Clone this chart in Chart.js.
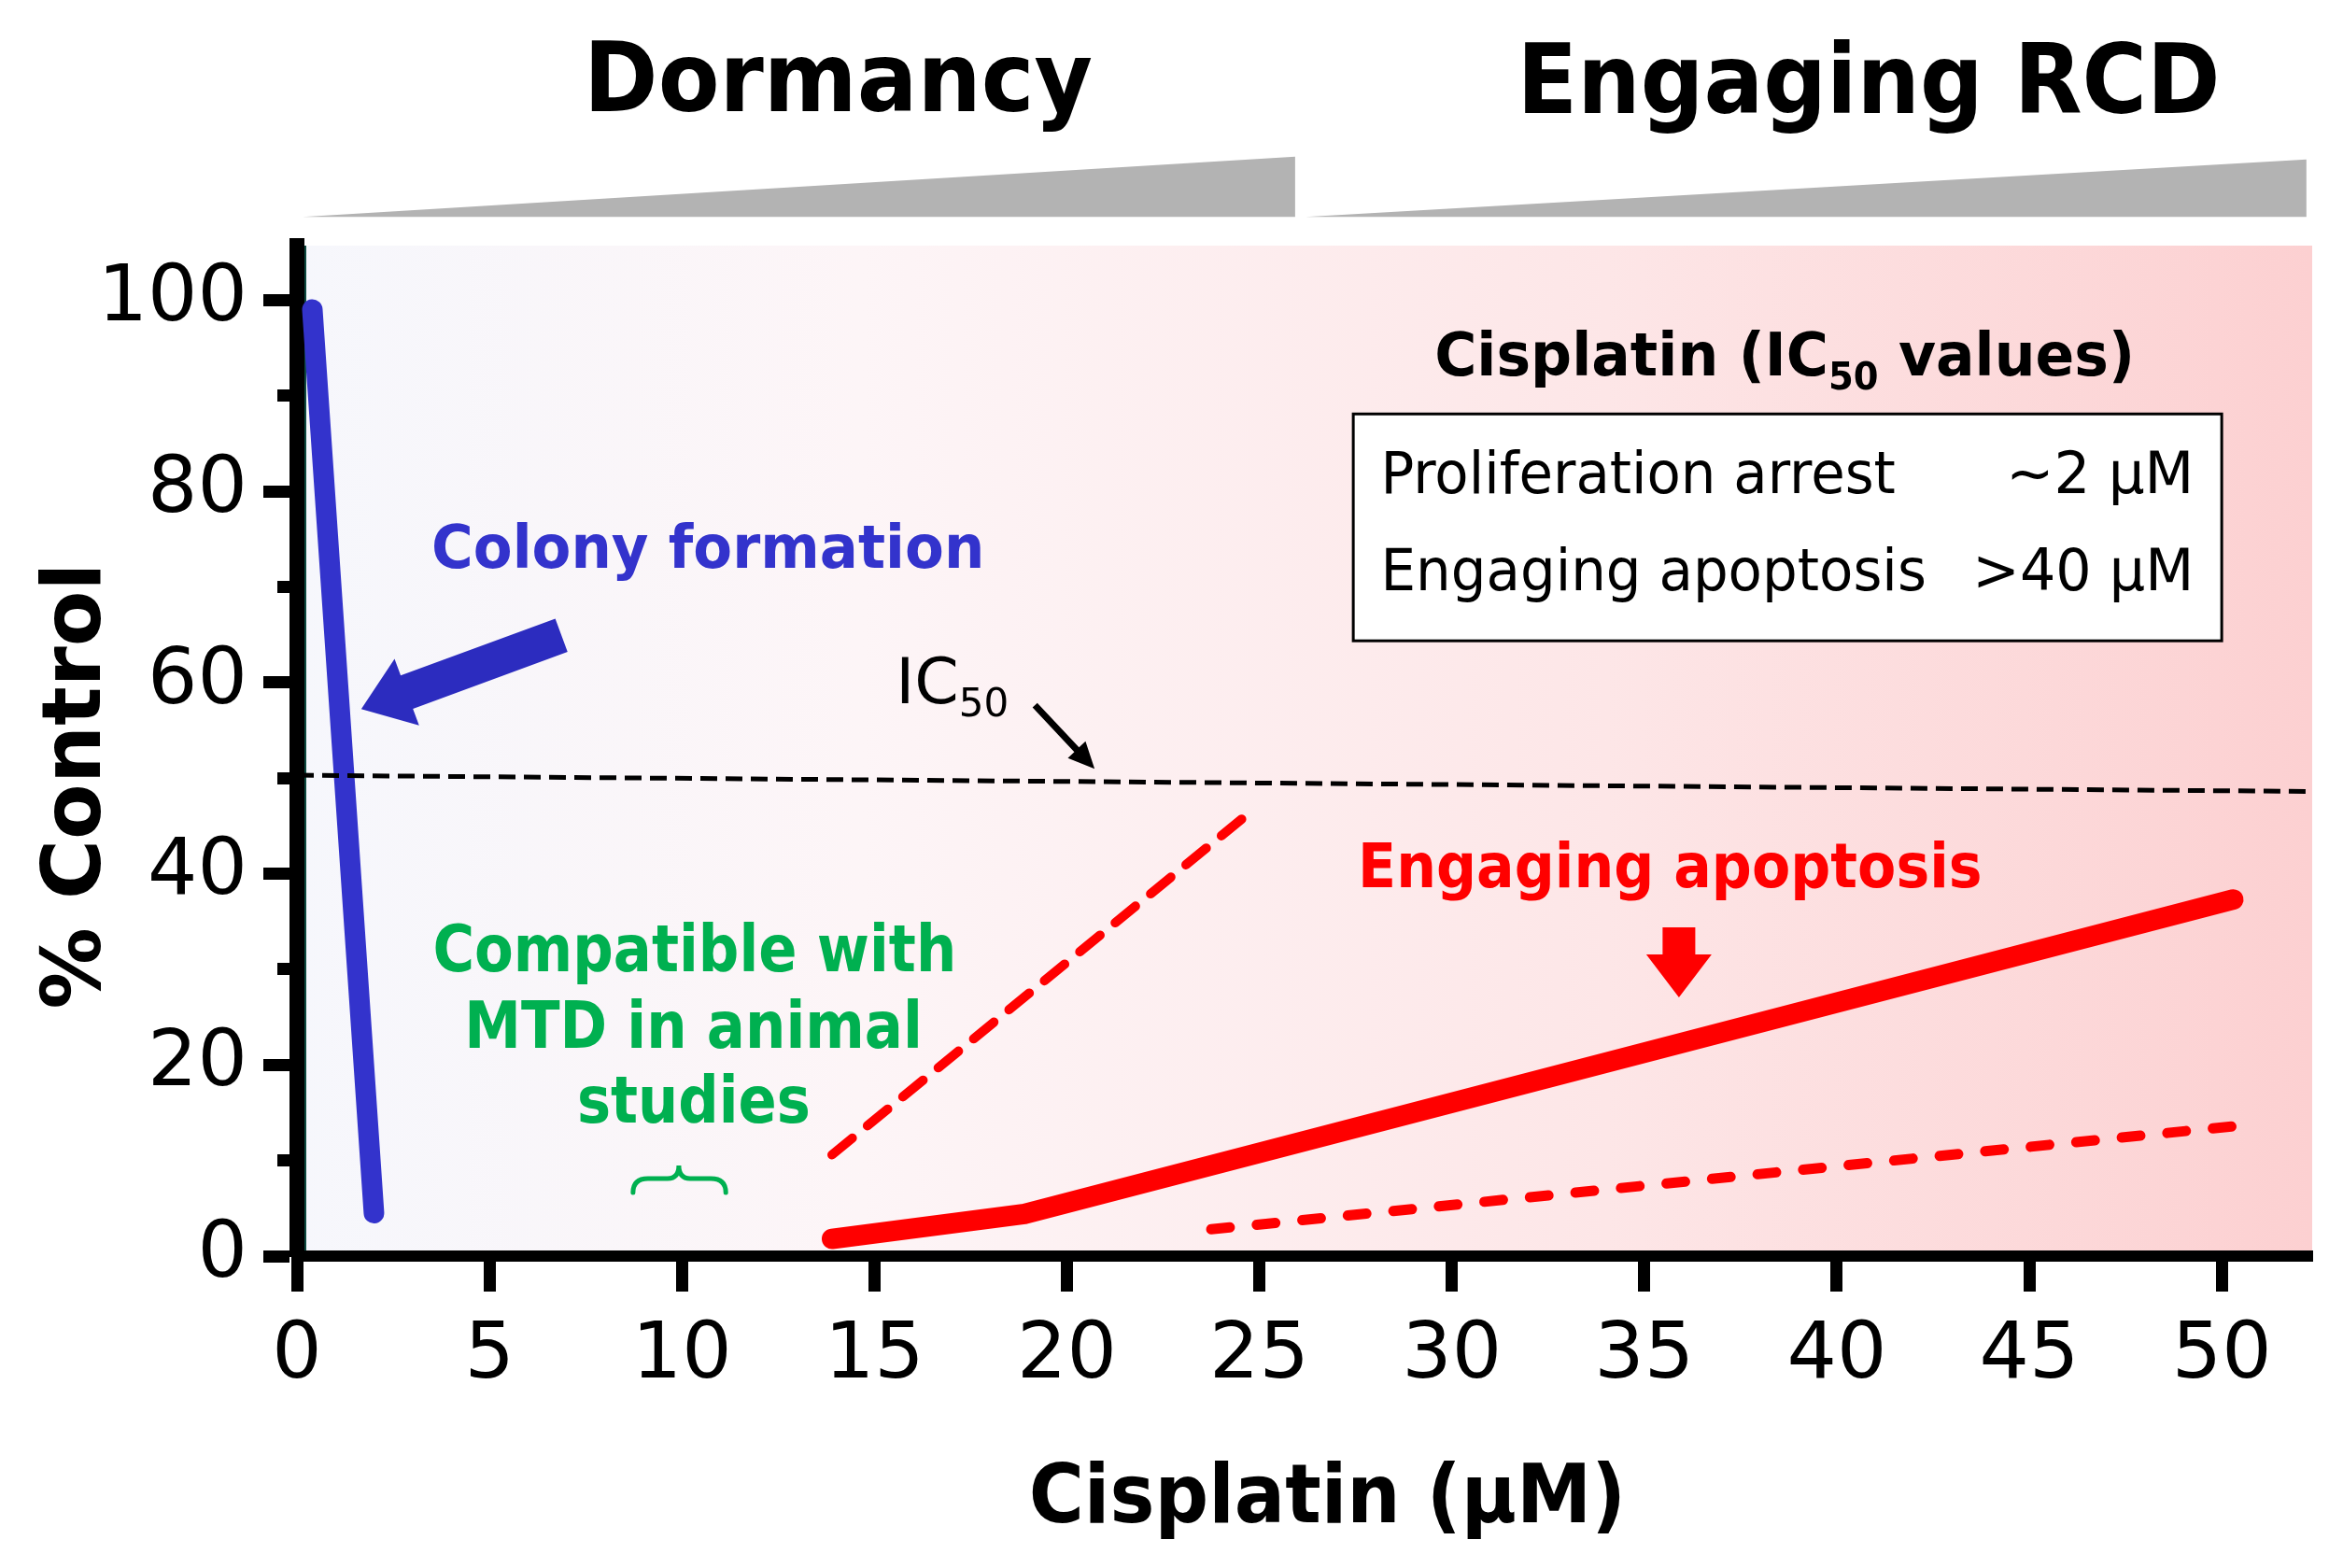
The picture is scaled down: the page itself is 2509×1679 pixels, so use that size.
<!DOCTYPE html>
<html><head><meta charset="utf-8">
<script src="https://cdn.jsdelivr.net/npm/chart.js@4.4.1/dist/chart.umd.min.js"></script>
<style>html,body{margin:0;padding:0;background:#fff}canvas{display:block}</style>
</head><body>
<canvas id="c" width="2509" height="1679" style="width:2509px;height:1679px"></canvas>
<script>
// ---------------- data ----------------
const xTickValues = [0, 5, 10, 15, 20, 25, 30, 35, 40, 45, 50];
const yTickLabels = [0, 20, 40, 60, 80, 100];
const colonyX = [0.4, 2.0];
const colonyY = [99.0, 4.5];
const apoptosisX = [13.9, 18.9, 50.3];
const apoptosisY = [1.8, 4.4, 37.3];
const upperBoundX = [13.9, 24.6];
const upperBoundY = [10.6, 45.9];
const lowerBoundX = [23.75, 50.6];
const lowerBoundY = [2.8, 13.7];
const ic50X = [0, 52.35];
const ic50Y = [50.3, 48.6];
const phaseLabels = ['Dormancy', 'Engaging RCD'];
const tableRows = ['Proliferation arrest', 'Engaging apoptosis'];
const tableValues = ['~2 μM', '>40 μM'];
const mtdLines = ['Compatible with', 'MTD in animal', 'studies'];

// ---------------- helpers ----------------
const FONT = 'DejaVu Sans';
const pts = (xs, ys) => xs.map((x, i) => ({x: x, y: ys[i]}));

function inkText(ctx, s, px, py, o) {
  ctx.save();
  ctx.font = (o.weight || 'normal') + ' ' + o.size + 'px "' + FONT + '"';
  ctx.fillStyle = o.color || '#000';
  ctx.textAlign = 'left';
  ctx.textBaseline = 'alphabetic';
  const m = ctx.measureText(s);
  const L = m.actualBoundingBoxLeft, R = m.actualBoundingBoxRight;
  const sx = o.width ? o.width / (L + R) : 1;
  let ox;
  if (o.anchor === 'center') ox = -((R - L) / 2) * sx;
  else if (o.anchor === 'right') ox = -R * sx;
  else ox = L * sx;
  ctx.translate(px, py);
  if (o.rotate) ctx.rotate(o.rotate);
  ctx.translate(ox, 0);
  ctx.scale(sx, 1);
  ctx.fillText(s, 0, 0);
  ctx.restore();
}

function partsText(ctx, parts, px, py, o) {
  ctx.save();
  ctx.fillStyle = o.color || '#000';
  ctx.textAlign = 'left';
  ctx.textBaseline = 'alphabetic';
  let total = 0;
  const ws = parts.map(p => {
    ctx.font = (o.weight || 'normal') + ' ' + p.size + 'px "' + FONT + '"';
    const w = ctx.measureText(p.s).width; total += w; return w;
  });
  const sx = o.width ? o.width / total : 1;
  ctx.translate(px, py);
  ctx.scale(sx, 1);
  let x = 0;
  parts.forEach((p, i) => {
    ctx.font = (o.weight || 'normal') + ' ' + p.size + 'px "' + FONT + '"';
    ctx.fillText(p.s, x, p.dy || 0);
    x += ws[i];
  });
  ctx.restore();
}

function blockArrow(ctx, T, P, w, hw, hl, color) {
  const dx = P.x - T.x, dy = P.y - T.y, len = Math.hypot(dx, dy);
  const ux = dx / len, uy = dy / len, nx = -uy, ny = ux;
  const Bx = P.x - ux * hl, By = P.y - uy * hl;
  ctx.save();
  ctx.fillStyle = color;
  ctx.beginPath();
  ctx.moveTo(T.x + nx * w / 2, T.y + ny * w / 2);
  ctx.lineTo(Bx + nx * w / 2, By + ny * w / 2);
  ctx.lineTo(Bx + nx * hw / 2, By + ny * hw / 2);
  ctx.lineTo(P.x, P.y);
  ctx.lineTo(Bx - nx * hw / 2, By - ny * hw / 2);
  ctx.lineTo(Bx - nx * w / 2, By - ny * w / 2);
  ctx.lineTo(T.x - nx * w / 2, T.y - ny * w / 2);
  ctx.closePath();
  ctx.fill();
  ctx.restore();
}

// ---------------- decoration plugin ----------------
const decor = {
  id: 'decor',
  beforeDraw(chart) {
    const {ctx, chartArea: a} = chart;
    const g = ctx.createLinearGradient(a.left, 0, a.right, 0);
    g.addColorStop(0, '#f6f7fc');
    g.addColorStop(0.28, '#fdf5f7');
    g.addColorStop(0.65, '#fde6e7');
    g.addColorStop(1, '#fcd0d1');
    ctx.save();
    ctx.fillStyle = g;
    ctx.fillRect(a.left, a.top, a.right - a.left, a.bottom - a.top);
    ctx.strokeStyle = '#0d4a40';
    ctx.lineWidth = 2;
    ctx.beginPath(); ctx.moveTo(a.left + 9, a.top); ctx.lineTo(a.left + 9, a.bottom); ctx.stroke();
    ctx.restore();
  },
  afterDatasetsDraw(chart) {
    const {ctx} = chart;
    const X = v => chart.scales.x.getPixelForValue(v);
    const Y = v => chart.scales.y.getPixelForValue(v);

    // grey wedges
    ctx.save();
    ctx.fillStyle = '#b3b3b3';
    [[0.15, 25.93, 108.7, 115.0], [26.2, 52.2, 108.7, 114.7]].forEach(w => {
      ctx.beginPath();
      ctx.moveTo(X(w[0]), Y(w[2]));
      ctx.lineTo(X(w[1]), Y(w[2]));
      ctx.lineTo(X(w[1]), Y(w[3]));
      ctx.closePath(); ctx.fill();
    });
    ctx.restore();

    // phase headings
    inkText(ctx, phaseLabels[0], X(14.14), Y(119.8), {size: 104, weight: 'bold', anchor: 'center', width: 535});
    inkText(ctx, phaseLabels[1], X(40.87), Y(119.6), {size: 104, weight: 'bold', anchor: 'center', width: 740});

    // axis titles
    inkText(ctx, '% Control', X(-5.12), Y(48.93), {size: 88, weight: 'bold', anchor: 'center', width: 469, rotate: -Math.PI / 2});
    inkText(ctx, 'Cisplatin (μM)', X(26.73), Y(-27.83), {size: 88, weight: 'bold', anchor: 'center', width: 629});

    // colony formation label + arrow
    inkText(ctx, 'Colony formation', X(10.66), Y(71.97), {size: 64, weight: 'bold', anchor: 'center', width: 585, color: '#3333cc'});
    blockArrow(ctx, {x: X(6.87), y: Y(64.94)}, {x: X(1.67), y: Y(57.23)}, 38, 76, 52, '#2c2cbf');

    // IC50 label + small arrow
    partsText(ctx, [{s: 'IC', size: 68}, {s: '50', size: 42, dy: 14}], X(15.65) - 4, Y(57.81), {});
    blockArrow(ctx, {x: X(19.17), y: Y(57.62)}, {x: X(20.72), y: Y(50.98)}, 7, 26, 28, '#000');

    // green MTD text + brace
    const gy = [29.79, 21.78, 13.96], gw = [554, 481, 245];
    mtdLines.forEach((s, i) => inkText(ctx, s, X(10.31), Y(gy[i]), {size: 70, weight: 'bold', anchor: 'center', width: gw[i], color: '#00b050'}));
    const bl = X(8.73), br = X(11.14), bc = X(9.92), yE = Y(6.64), yM = Y(8.11), yP = Y(9.47);
    ctx.save();
    ctx.strokeStyle = '#00b050'; ctx.lineWidth = 5; ctx.lineCap = 'round';
    ctx.beginPath();
    ctx.moveTo(bl, yE);
    ctx.quadraticCurveTo(bl, yM, bl + 16, yM);
    ctx.lineTo(bc - 12, yM);
    ctx.quadraticCurveTo(bc, yM, bc, yP);
    ctx.quadraticCurveTo(bc, yM, bc + 12, yM);
    ctx.lineTo(br - 16, yM);
    ctx.quadraticCurveTo(br, yM, br, yE);
    ctx.stroke();
    ctx.restore();

    // engaging apoptosis label + arrow
    inkText(ctx, 'Engaging apoptosis', X(35.71), Y(38.57), {size: 66, weight: 'bold', anchor: 'center', width: 661, color: '#ff0000'});
    blockArrow(ctx, {x: X(35.9), y: Y(34.38)}, {x: X(35.9), y: Y(27.05)}, 35, 70, 46, '#ff0000');

    // IC50 table
    partsText(ctx, [{s: 'Cisplatin (IC', size: 64}, {s: '50', size: 40, dy: 15}, {s: ' values)', size: 64}],
      X(29.55), Y(92.09), {weight: 'bold', width: 750});
    const bx0 = X(27.44), bx1 = X(50.0), by0 = Y(88.09), by1 = Y(64.36);
    ctx.save();
    ctx.fillStyle = '#ffffff'; ctx.fillRect(bx0, by0, bx1 - bx0, by1 - by0);
    ctx.strokeStyle = '#000'; ctx.lineWidth = 3; ctx.strokeRect(bx0, by0, bx1 - bx0, by1 - by0);
    ctx.restore();
    const ry = [79.79, 69.63], rw = [545, 576], vw = [190, 226];
    tableRows.forEach((s, i) => {
      inkText(ctx, s, X(28.29), Y(ry[i]), {size: 63, width: rw[i]});
      inkText(ctx, tableValues[i], X(49.15), Y(ry[i]), {size: 63, anchor: 'right', width: vw[i]});
    });
  }
};

// ---------------- chart ----------------
Chart.defaults.font.family = FONT;
Chart.defaults.color = '#000';

new Chart(document.getElementById('c').getContext('2d'), {
  type: 'line',
  data: {
    datasets: [
      {label: 'IC50', data: pts(ic50X, ic50Y), borderColor: '#000', borderWidth: 5, borderDash: [18, 9], pointRadius: 0},
      {label: 'Colony formation', data: pts(colonyX, colonyY), borderColor: '#3333cc', borderWidth: 22, borderCapStyle: 'round', pointRadius: 0},
      {label: 'Engaging apoptosis', data: pts(apoptosisX, apoptosisY), borderColor: '#ff0000', borderWidth: 22, borderCapStyle: 'round', borderJoinStyle: 'round', pointRadius: 0},
      {label: 'Upper bound', data: pts(upperBoundX, upperBoundY), borderColor: '#ff0000', borderWidth: 10, borderDash: [28, 21], borderCapStyle: 'round', pointRadius: 0},
      {label: 'Lower bound', data: pts(lowerBoundX, lowerBoundY), borderColor: '#ff0000', borderWidth: 11, borderDash: [20, 29], borderCapStyle: 'round', pointRadius: 0}
    ]
  },
  options: {
    responsive: false,
    animation: false,
    devicePixelRatio: 1,
    layout: {padding: {left: 0, top: 263, right: 33, bottom: 0}},
    plugins: {legend: {display: false}, tooltip: {enabled: false}},
    scales: {
      x: {
        type: 'linear', min: 0, max: 52.35,
        afterFit(s) { s.height = 334; },
        ticks: {stepSize: 5, includeBounds: false, autoSkip: false, maxRotation: 0, padding: 20,
          font: {size: 84}, color: '#000',
          callback: v => xTickValues.includes(v) ? String(v) : ''},
        grid: {drawOnChartArea: false, drawTicks: true, tickLength: 38, tickWidth: 13, tickColor: '#000'},
        border: {display: true, width: 12, color: '#000'}
      },
      y: {
        type: 'linear', min: 0, max: 105.7,
        afterFit(s) { s.width = 318; },
        ticks: {stepSize: 10, includeBounds: false, autoSkip: false, padding: 17,
          font: {size: 84}, color: '#000',
          callback: v => yTickLabels.includes(v) ? String(v) : ''},
        grid: {drawOnChartArea: false, drawTicks: true, tickLength: 36, tickWidth: 13, tickColor: '#000',
          tickBorderDash: c => (c.tick && yTickLabels.includes(c.tick.value)) ? [] : [20, 1000],
          tickBorderDashOffset: c => (c.tick && yTickLabels.includes(c.tick.value)) ? 0 : 1005},
        border: {display: true, width: 16, color: '#000'}
      }
    }
  },
  plugins: [decor]
});
</script>
</body></html>
